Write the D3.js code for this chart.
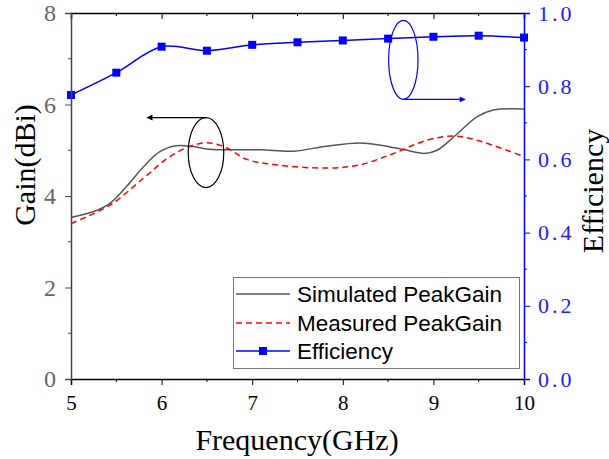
<!DOCTYPE html>
<html><head><meta charset="utf-8">
<script src="https://cdn.jsdelivr.net/npm/d3@7"></script>
<style>body{margin:0;background:#fff}svg{display:block}</style>
</head><body><svg id="c" width="609" height="459"></svg>
<script>
const freqTicks = [5,6,7,8,9,10];
const gainTicks = [0,2,4,6,8];
const effTicks = [0,0.2,0.4,0.6,0.8,1.0];

const effFreq = [5,5.5,6,6.5,7,7.5,8,8.5,9,9.5,10];
const effVal  = [0.776,0.837,0.908,0.897,0.913,0.920,0.925,0.930,0.935,0.938,0.933];

const simFreq = [5,5.25,5.43,5.61,5.8,5.98,6.16,6.35,6.53,6.72,7.09,7.46,7.82,8.19,8.42,8.68,8.9,9.04,9.23,9.48,9.66,10];
const simGain = [3.53,3.66,3.84,4.20,4.64,4.97,5.10,5.08,5.02,5.01,5.01,4.98,5.09,5.16,5.11,5.01,4.93,5.0,5.30,5.73,5.88,5.90];

const meaFreq = [5,5.43,5.8,6.09,6.35,6.53,6.72,6.94,7.27,7.82,8.19,8.56,8.93,9.23,9.48,10];
const meaGain = [3.40,3.80,4.39,4.86,5.11,5.16,5.05,4.80,4.68,4.61,4.68,4.93,5.22,5.31,5.22,4.86];

const legendLabels = ["Simulated PeakGain","Measured PeakGain","Efficiency"];

// annotations (data units)
const gainNote = {cx:6.49, cy:4.95, rx:0.196, ry:0.765, toF:5.84};
const effNote  = {cx:8.668, cy:0.872, rx:0.162, ry:0.108, toF:9.35};

const svg = d3.select("#c");
const L=71, R=524, T=13, B=379;
const x = d3.scaleLinear().domain([5,10]).range([L,R]);
const yG = d3.scaleLinear().domain([0,8]).range([B,T]);
const yE = d3.scaleLinear().domain([0,1]).range([B,T]);

const defs = svg.append("defs");
function marker(id,color){
  defs.append("marker").attr("id",id).attr("viewBox","0 0 10 10").attr("refX",9).attr("refY",5)
   .attr("markerWidth",10).attr("markerHeight",6).attr("markerUnits","userSpaceOnUse").attr("orient","auto")
   .append("path").attr("d","M0,0L10,5L0,10z").attr("fill",color);
}
marker("ab","#000"); marker("abl","#0000ff");

// curves
const lineG = d3.line().x(d=>x(d[0])).y(d=>yG(d[1])).curve(d3.curveCatmullRom.alpha(0.5));
const lineE = d3.line().x(d=>x(d[0])).y(d=>yE(d[1])).curve(d3.curveCatmullRom.alpha(0.5));

svg.append("path").datum(simFreq.map((f,i)=>[f,simGain[i]])).attr("d",lineG)
  .attr("fill","none").attr("stroke","#555").attr("stroke-width",1.5);
svg.append("path").datum(meaFreq.map((f,i)=>[f,meaGain[i]])).attr("d",lineG)
  .attr("fill","none").attr("stroke","#ff0000").attr("stroke-width",1.5).attr("stroke-dasharray","6,4");
const effData = effFreq.map((f,i)=>[f,effVal[i]]);
svg.append("path").datum(effData).attr("d",lineE)
  .attr("fill","none").attr("stroke","#0000ff").attr("stroke-width",1.5);
svg.selectAll("rect.m").data(effData).enter().append("rect").attr("class","m")
  .attr("x",d=>x(d[0])-4).attr("y",d=>yE(d[1])-4).attr("width",8).attr("height",8).attr("fill","#0000ff");

// annotations
svg.append("ellipse").attr("cx",x(gainNote.cx)).attr("cy",yG(gainNote.cy))
  .attr("rx",x(gainNote.cx+gainNote.rx)-x(gainNote.cx)).attr("ry",yG(gainNote.cy)-yG(gainNote.cy+gainNote.ry))
  .attr("fill","none").attr("stroke","#000").attr("stroke-width",1.2);
svg.append("line").attr("x1",x(gainNote.cx)).attr("x2",x(gainNote.toF))
  .attr("y1",yG(gainNote.cy+gainNote.ry)).attr("y2",yG(gainNote.cy+gainNote.ry))
  .attr("stroke","#000").attr("stroke-width",1.2).attr("marker-end","url(#ab)");
svg.append("ellipse").attr("cx",x(effNote.cx)).attr("cy",yE(effNote.cy))
  .attr("rx",x(effNote.cx+effNote.rx)-x(effNote.cx)).attr("ry",yE(effNote.cy)-yE(effNote.cy+effNote.ry))
  .attr("fill","none").attr("stroke","#0000ff").attr("stroke-width",1.2);
svg.append("line").attr("x1",x(effNote.cx)).attr("x2",x(effNote.toF))
  .attr("y1",yE(effNote.cy-effNote.ry)).attr("y2",yE(effNote.cy-effNote.ry))
  .attr("stroke","#0000ff").attr("stroke-width",1.2).attr("marker-end","url(#abl)");

// axes
const minorF = d3.range(5.5,10,1);
const minorG = [1,3,5,7];
const minorE = [0.1,0.3,0.5,0.7,0.9];
const ser = "'Liberation Serif','Times New Roman',serif";

// bottom
const gb = svg.append("g").attr("transform",`translate(0,${B})`);
gb.call(d3.axisBottom(x).tickValues(freqTicks).tickSize(6).tickFormat(d3.format("d")));
gb.call(g=>g.selectAll(".tick text").attr("font-family",ser).attr("font-size",21).attr("fill","#000").attr("dy","1.05em"));
gb.selectAll(".minor").data(minorF).enter().append("line").attr("x1",d=>x(d)).attr("x2",d=>x(d)).attr("y1",0).attr("y2",3).attr("stroke","#000");
// top
const gt = svg.append("g").attr("transform",`translate(0,${T})`);
gt.call(d3.axisTop(x).tickValues(freqTicks).tickSize(-6).tickFormat(""));
gt.selectAll(".minor").data(minorF).enter().append("line").attr("x1",d=>x(d)).attr("x2",d=>x(d)).attr("y1",0).attr("y2",3).attr("stroke","#000");
// left
const gl = svg.append("g").attr("transform",`translate(${L},0)`);
gl.call(d3.axisLeft(yG).tickValues(gainTicks).tickSize(6).tickPadding(9).tickFormat(d3.format("d")));
gl.call(g=>g.select(".domain").attr("stroke","#444"));
gl.call(g=>g.selectAll(".tick line").attr("stroke","#444"));
gl.call(g=>g.selectAll(".tick text").attr("font-family",ser).attr("font-size",24).attr("fill","#666").attr("font-weight",300));
gl.selectAll(".minor").data(minorG).enter().append("line").attr("y1",d=>yG(d)).attr("y2",d=>yG(d)).attr("x1",0).attr("x2",-3).attr("stroke","#444");
// right
const gr = svg.append("g").attr("transform",`translate(${R},0)`);
gr.call(d3.axisRight(yE).tickValues(effTicks).tickSize(6).tickPadding(8).tickFormat(d3.format(".1f")));
gr.call(g=>g.select(".domain").attr("stroke","#0000ff"));
gr.call(g=>g.selectAll(".tick line").attr("stroke","#0000ff"));
gr.call(g=>g.selectAll(".tick text").attr("font-family",ser).attr("font-size",22).attr("fill","#2020ff").attr("letter-spacing","3px"));
gr.selectAll(".minor").data(minorE).enter().append("line").attr("y1",d=>yE(d)).attr("y2",d=>yE(d)).attr("x1",0).attr("x2",3).attr("stroke","#0000ff");
svg.selectAll(".domain").attr("stroke-width",1.5);
gb.select(".domain").attr("stroke","#000");
gt.select(".domain").attr("stroke","#000");

// titles
svg.append("text").attr("x",297).attr("y",450).attr("text-anchor","middle")
  .attr("font-family",ser).attr("font-size",30).text("Frequency(GHz)");
svg.append("text").attr("transform","translate(35,165) rotate(-90)").attr("text-anchor","middle")
  .attr("font-family",ser).attr("font-size",30).text("Gain(dBi)");
svg.append("text").attr("transform","translate(603,191) rotate(-90)").attr("text-anchor","middle")
  .attr("font-family",ser).attr("font-size",30).text("Efficiency");

// legend
const lg = svg.append("g");
lg.append("rect").attr("x",233.5).attr("y",277.5).attr("width",286).attr("height",91)
  .attr("fill","#fff").attr("stroke","#777").attr("stroke-width",1);
const rowY = [294,323,351];
const styles = [{c:"#555",d:null},{c:"#ff0000",d:"6,4"},{c:"#0000ff",d:null}];
legendLabels.forEach((t,i)=>{
  lg.append("line").attr("x1",236).attr("x2",290).attr("y1",rowY[i]).attr("y2",rowY[i])
    .attr("stroke",styles[i].c).attr("stroke-width",1.5).attr("stroke-dasharray",styles[i].d);
  if(i===2) lg.append("rect").attr("x",259).attr("y",rowY[i]-4).attr("width",8).attr("height",8).attr("fill","#0000ff");
  lg.append("text").attr("x",297).attr("y",rowY[i]).attr("dy","0.35em")
    .attr("font-family","'Liberation Sans',Arial,sans-serif").attr("font-size",22.5).attr("fill","#000").text(t);
});
</script></body></html>
